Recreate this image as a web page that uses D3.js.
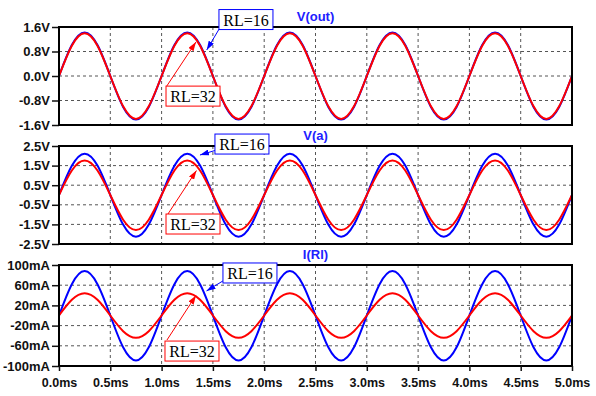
<!DOCTYPE html>
<html>
<head>
<meta charset="utf-8">
<style>
  body { margin: 0; background: #fff; }
  .tick text { font-family: "Liberation Sans", Arial, sans-serif; font-weight: bold; font-size: 13px; fill: #111; }
  .x-axis .tick text { font-size: 12.5px; }
  .tick line { stroke: #111; stroke-width: 1.5; }
  .pane-title { font-family: "Liberation Sans", Arial, sans-serif; font-weight: bold; font-size: 13px; fill: #2020ff; }
  .note text { font-family: "Liberation Serif", "Times New Roman", serif; font-size: 16px; fill: #000; }
</style>
</head>
<body>
<div id="chart"></div>
<script src="https://d3js.org/d3.v7.min.js"></script>
<script>
// time axis samples (ms)
const timeMs = [0, 0.125, 0.25, 0.375, 0.5, 0.625, 0.75, 0.875,
  1, 1.125, 1.25, 1.375, 1.5, 1.625, 1.75, 1.875,
  2, 2.125, 2.25, 2.375, 2.5, 2.625, 2.75, 2.875,
  3, 3.125, 3.25, 3.375, 3.5, 3.625, 3.75, 3.875,
  4, 4.125, 4.25, 4.375, 4.5, 4.625, 4.75, 4.875, 5];

// V(out) in volts
const voutRL16 = [0, 1.01, 1.42, 1.01, 0, -1.01, -1.42, -1.01,
  0, 1.01, 1.42, 1.01, 0, -1.01, -1.42, -1.01,
  0, 1.01, 1.42, 1.01, 0, -1.01, -1.42, -1.01,
  0, 1.01, 1.42, 1.01, 0, -1.01, -1.42, -1.01,
  0, 1.01, 1.42, 1.01, 0, -1.01, -1.42, -1.01, 0];
const voutRL32 = [0, 0.99, 1.40, 0.99, 0, -0.99, -1.40, -0.99,
  0, 0.99, 1.40, 0.99, 0, -0.99, -1.40, -0.99,
  0, 0.99, 1.40, 0.99, 0, -0.99, -1.40, -0.99,
  0, 0.99, 1.40, 0.99, 0, -0.99, -1.40, -0.99,
  0, 0.99, 1.40, 0.99, 0, -0.99, -1.40, -0.99, 0];

// V(a) in volts
const vaRL16 = [0, 1.49, 2.11, 1.50, 0, -1.51, -2.13, -1.51,
  0, 1.49, 2.11, 1.50, 0, -1.51, -2.13, -1.51,
  0, 1.49, 2.11, 1.50, 0, -1.51, -2.13, -1.51,
  0, 1.49, 2.11, 1.50, 0, -1.51, -2.13, -1.51,
  0, 1.49, 2.11, 1.50, 0, -1.51, -2.13, -1.51, 0];
const vaRL32 = [0, 1.25, 1.76, 1.25, 0, -1.26, -1.79, -1.26,
  0, 1.25, 1.76, 1.25, 0, -1.26, -1.79, -1.26,
  0, 1.25, 1.76, 1.25, 0, -1.26, -1.79, -1.26,
  0, 1.25, 1.76, 1.25, 0, -1.26, -1.79, -1.26,
  0, 1.25, 1.76, 1.25, 0, -1.26, -1.79, -1.26, 0];

// I(Rl) in mA
const iRL16 = [0, 62, 88, 62, 0, -63, -89, -63,
  0, 62, 88, 62, 0, -63, -89, -63,
  0, 62, 88, 62, 0, -63, -89, -63,
  0, 62, 88, 62, 0, -63, -89, -63,
  0, 62, 88, 62, 0, -63, -89, -63, 0];
const iRL32 = [0, 31, 44, 31, 0, -31, -44, -31,
  0, 31, 44, 31, 0, -31, -44, -31,
  0, 31, 44, 31, 0, -31, -44, -31,
  0, 31, 44, 31, 0, -31, -44, -31,
  0, 31, 44, 31, 0, -31, -44, -31, 0];

// tick values
const timeTicks = [0, 0.5, 1, 1.5, 2, 2.5, 3, 3.5, 4, 4.5, 5];
const voutTicks = [-1.6, -0.8, 0, 0.8, 1.6];
const vaTicks = [-2.5, -1.5, -0.5, 0.5, 1.5, 2.5];
const iTicks = [-100, -60, -20, 20, 60, 100];

const traceLabels = ['RL=16', 'RL=32'];
const traceColors = ['#0000ff', '#ff0000'];

const width = 596;
const height = 396;
const left = 59, right = 572;

const panes = [
  { title: 'V(out)', top: 27, bottom: 125, domain: [-1.6, 1.6], ticks: voutTicks,
    fmt: (d) => d.toFixed(1) + 'V', series: [voutRL16, voutRL32],
    notes: [
      { box: [1.559, 2.17], from: [1.56, 1.53], to: [1.44, 0.85] },
      { box: [1.043, -0.33], from: [1.05, -0.33], to: [1.335, 1.11] }
    ] },
  { title: 'V(a)', top: 146, bottom: 244, domain: [-2.5, 2.5], ticks: vaTicks,
    fmt: (d) => d.toFixed(1) + 'V', series: [vaRL16, vaRL32],
    notes: [
      { box: [1.52, 3.11], from: [1.52, 2.27], to: [1.374, 2.04] },
      { box: [1.043, -0.97], from: [1.062, -0.97], to: [1.34, 1.25] }
    ] },
  { title: 'I(Rl)', top: 265, bottom: 366, domain: [-100, 100], ticks: iTicks,
    fmt: (d) => d + 'mA', series: [iRL16, iRL32],
    notes: [
      { box: [1.598, 104], from: [1.598, 68.5], to: [1.438, 48.7] },
      { box: [1.033, -50.6], from: [1.052, -48.7], to: [1.335, 39.7] }
    ] }
];

const svg = d3.select('#chart')
  .append('svg')
  .attr('width', width)
  .attr('height', height);

// arrow heads
const defs = svg.append('defs');
traceColors.forEach((c, i) => {
  defs.append('marker')
    .attr('id', 'arrow' + i)
    .attr('markerUnits', 'userSpaceOnUse')
    .attr('markerWidth', 9)
    .attr('markerHeight', 6)
    .attr('refX', 9)
    .attr('refY', 3)
    .attr('orient', 'auto')
    .append('path')
    .attr('d', 'M0,0L9,3L0,6Z')
    .attr('fill', c);
});

const xScale = d3.scaleLinear().domain([0, 5]).range([left, right]);

panes.forEach((p, pi) => {
  const yScale = d3.scaleLinear().domain(p.domain).range([p.bottom, p.top]);
  const g = svg.append('g');

  // grid
  g.append('g')
    .selectAll('line')
    .data(timeTicks.slice(1, -1))
    .enter()
    .append('line')
    .attr('x1', (d) => xScale(d)).attr('x2', (d) => xScale(d))
    .attr('y1', p.top).attr('y2', p.bottom)
    .attr('stroke', '#555').attr('stroke-dasharray', '3,3');
  g.append('g')
    .selectAll('line')
    .data(p.ticks.filter((d) => d !== p.domain[0] && d !== p.domain[1]))
    .enter()
    .append('line')
    .attr('x1', left).attr('x2', right)
    .attr('y1', (d) => yScale(d)).attr('y2', (d) => yScale(d))
    .attr('stroke', '#555').attr('stroke-dasharray', '3,3');

  // y axis
  const yAxis = d3.axisLeft(yScale)
    .tickValues(p.ticks)
    .tickFormat(p.fmt)
    .tickSize(7)
    .tickPadding(2);
  g.append('g')
    .attr('transform', `translate(${left}, 0)`)
    .call(yAxis)
    .call((a) => a.select('.domain').remove());

  // traces
  const clipId = 'clip' + pi;
  defs.append('clipPath').attr('id', clipId)
    .append('rect')
    .attr('x', left).attr('y', p.top)
    .attr('width', right - left).attr('height', p.bottom - p.top);

  const line = d3.line()
    .x((d, i) => xScale(timeMs[i]))
    .y((d) => yScale(d))
    .curve(d3.curveNatural);

  p.series.forEach((s, si) => {
    g.append('path')
      .datum(s)
      .attr('clip-path', `url(#${clipId})`)
      .attr('fill', 'none')
      .attr('stroke', traceColors[si])
      .attr('stroke-width', 2)
      .attr('d', line);
  });

  // frame
  g.append('rect')
    .attr('x', left).attr('y', p.top)
    .attr('width', right - left).attr('height', p.bottom - p.top)
    .attr('fill', 'none')
    .attr('stroke', '#000')
    .attr('stroke-width', 2);

  // title
  g.append('text')
    .attr('class', 'pane-title')
    .attr('x', (left + right) / 2)
    .attr('y', p.top - 6)
    .attr('text-anchor', 'middle')
    .text(p.title);

  // labels with arrows
  p.notes.forEach((n, ni) => {
    const ng = g.append('g').attr('class', 'note');
    ng.append('line')
      .attr('x1', xScale(n.from[0])).attr('y1', yScale(n.from[1]))
      .attr('x2', xScale(n.to[0])).attr('y2', yScale(n.to[1]))
      .attr('stroke', traceColors[ni])
      .attr('stroke-width', 1)
      .attr('marker-end', `url(#arrow${ni})`);
    const bx = xScale(n.box[0]);
    const by = yScale(n.box[1]);
    ng.append('rect')
      .attr('x', bx).attr('y', by)
      .attr('width', 54).attr('height', 20)
      .attr('fill', '#fff')
      .attr('stroke', traceColors[ni])
      .attr('stroke-width', 1);
    ng.append('text')
      .attr('x', bx + 27)
      .attr('y', by + 16)
      .attr('text-anchor', 'middle')
      .text(traceLabels[ni]);
  });

  // x axis on the bottom pane
  if (pi === panes.length - 1) {
    const xAxis = d3.axisBottom(xScale)
      .tickValues(timeTicks)
      .tickFormat((d) => d.toFixed(1) + 'ms')
      .tickSize(5)
      .tickPadding(7);
    svg.append('g')
      .attr('class', 'x-axis')
      .attr('transform', `translate(0, ${p.bottom})`)
      .call(xAxis)
      .call((a) => a.select('.domain').remove());
  }
});
</script>
</body>
</html>
